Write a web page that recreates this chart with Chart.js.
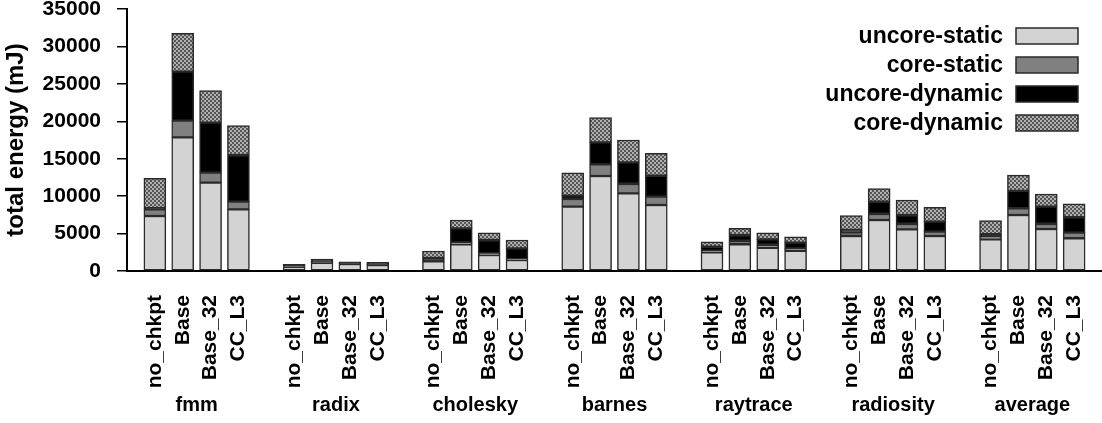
<!DOCTYPE html>
<html>
<head>
<meta charset="utf-8">
<script src="https://cdn.jsdelivr.net/npm/chart.js@4"></script>
<style>
  html, body { margin: 0; padding: 0; background: #fff; }
  #c { display: block; }
</style>
</head>
<body>
<canvas id="c" width="1102" height="423"></canvas>
<script>
const groups = ['fmm', 'radix', 'cholesky', 'barnes', 'raytrace', 'radiosity', 'average'];
const configs = ['no_chkpt', 'Base', 'Base_32', 'CC_L3'];
const seriesNames = ['uncore-static', 'core-static', 'uncore-dynamic', 'core-dynamic'];
const yTicks = [0, 5000, 10000, 15000, 20000, 25000, 30000, 35000];

// values per group, 4 configs each (mJ)
const uncoreStatic = [
  7350, 17860, 11800, 8240,
  560, 1100, 930, 800,
  1300, 3570, 2140, 1470,
  8590, 12690, 10380, 8820,
  2500, 3570, 3110, 2710,
  4680, 6810, 5570, 4680,
  4240, 7480, 5610, 4370
];
const coreStatic = [
  900, 2220, 1340, 1020,
  40, 60, 50, 50,
  40, 260, 220, 100,
  1030, 1560, 1240, 1110,
  210, 440, 360, 320,
  490, 800, 710, 570,
  350, 900, 670, 750
];
const uncoreDynamic = [
  130, 6550, 6680, 6240,
  300, 400, 260, 310,
  400, 1870, 1780, 1460,
  440, 2940, 2900, 2800,
  530, 800, 760, 750,
  310, 1640, 1200, 1340,
  320, 2330, 2310, 2060
];
const coreDynamic = [
  4000, 5130, 4270, 3910,
  0, 30, 0, 0,
  935, 1110, 975, 1110,
  3070, 3300, 2980, 3000,
  670, 900, 880, 800,
  1910, 1750, 2000, 1920,
  1820, 2100, 1700, 1780
];

const FONT = '"Liberation Sans", Arial, Helvetica, sans-serif';

// build slot layout: leading gap, then 4 bars + gap per group
const labels = [''];
const slotIndex = [];
groups.forEach((g, gi) => {
  configs.forEach((c, ci) => { slotIndex.push(labels.length); labels.push(c); });
  labels.push('');
});
function toSlots(arr) {
  const out = new Array(labels.length).fill(null);
  arr.forEach((v, i) => { out[slotIndex[i]] = v; });
  return out;
}

function makePattern() {
  const c = document.createElement('canvas');
  c.width = 4; c.height = 4;
  const x = c.getContext('2d');
  x.fillStyle = '#555555'; x.fillRect(0, 0, 4, 4);
  x.fillStyle = '#b0b0b0';
  x.fillRect(0, 0, 2, 2);
  x.fillRect(2, 2, 2, 2);
  return x.createPattern(c, 'repeat');
}

const ctx = document.getElementById('c').getContext('2d');
const fills = ['#d3d3d3', '#808080', '#000000', makePattern()];
const seriesData = [uncoreStatic, coreStatic, uncoreDynamic, coreDynamic];

const datasets = seriesNames.map((name, i) => ({
  label: name,
  data: toSlots(seriesData[i]),
  backgroundColor: fills[i],
  borderColor: '#2a2a2a',
  borderWidth: 1.5,
  borderSkipped: false,
  barThickness: 22
}));

const groupLabelPlugin = {
  id: 'groupLabels',
  afterDraw(chart) {
    const xs = chart.scales.x;
    const c = chart.ctx;
    c.save();
    c.font = 'bold 20px ' + FONT;
    c.fillStyle = '#000';
    c.textAlign = 'center';
    c.textBaseline = 'alphabetic';
    groups.forEach((g, gi) => {
      const a = xs.getPixelForValue(slotIndex[gi * 4]);
      const b = xs.getPixelForValue(slotIndex[gi * 4 + 3]);
      c.fillText(g, (a + b) / 2, 411);
    });
    c.restore();
  }
};

const legendPlugin = {
  id: 'customLegend',
  afterDraw(chart) {
    const c = chart.ctx;
    c.save();
    c.font = 'bold 23px ' + FONT;
    c.textAlign = 'right';
    c.textBaseline = 'middle';
    chart.data.datasets.forEach((ds, i) => {
      const cy = 36 + i * 29;
      c.fillStyle = '#000';
      c.fillText(ds.label, 1003, cy + 1);
      c.fillStyle = ds.backgroundColor;
      c.fillRect(1016, cy - 8, 62, 16);
      c.lineWidth = 1.5;
      c.strokeStyle = '#2a2a2a';
      c.strokeRect(1016, cy - 8, 62, 16);
    });
    c.restore();
  }
};

new Chart(ctx, {
  type: 'bar',
  data: { labels, datasets },
  options: {
    responsive: false,
    animation: false,
    devicePixelRatio: 1,
    layout: { padding: { top: 9, right: 0, bottom: 0, left: 0 } },
    plugins: { legend: { display: false }, tooltip: { enabled: false } },
    scales: {
      x: {
        stacked: true,
        offset: false,
        grid: { display: false },
        border: { display: true, color: '#000', width: 2 },
        ticks: {
          autoSkip: false, minRotation: 90, maxRotation: 90,
          font: { family: FONT, weight: 'bold', size: 21 }, color: '#000', padding: 16
        },
        afterFit(s) {
          s.height = 152;
          s.paddingLeft = 0; s.paddingRight = 0;
        }
      },
      y: {
        stacked: true,
        min: 0, max: 35000,
        afterBuildTicks(s) { s.ticks = yTicks.map(v => ({ value: v })); },
        ticks: {
          font: { family: FONT, weight: 'bold', size: 21 }, color: '#000', padding: 16,
          callback: (v) => String(v)
        },
        grid: { drawOnChartArea: false, drawTicks: true, tickLength: 10, color: '#000', lineWidth: 1.5 },
        border: { display: true, color: '#000', width: 2 },
        title: {
          display: true, text: 'total energy (mJ)', color: '#000', padding: { top: 2, bottom: 0 },
          font: { family: FONT, weight: 'bold', size: 24 }
        },
        afterFit(s) {
          s.width = 127;
          s.paddingTop = 0; s.paddingBottom = 0;
        }
      }
    }
  },
  plugins: [groupLabelPlugin, legendPlugin]
});
</script>
</body>
</html>
